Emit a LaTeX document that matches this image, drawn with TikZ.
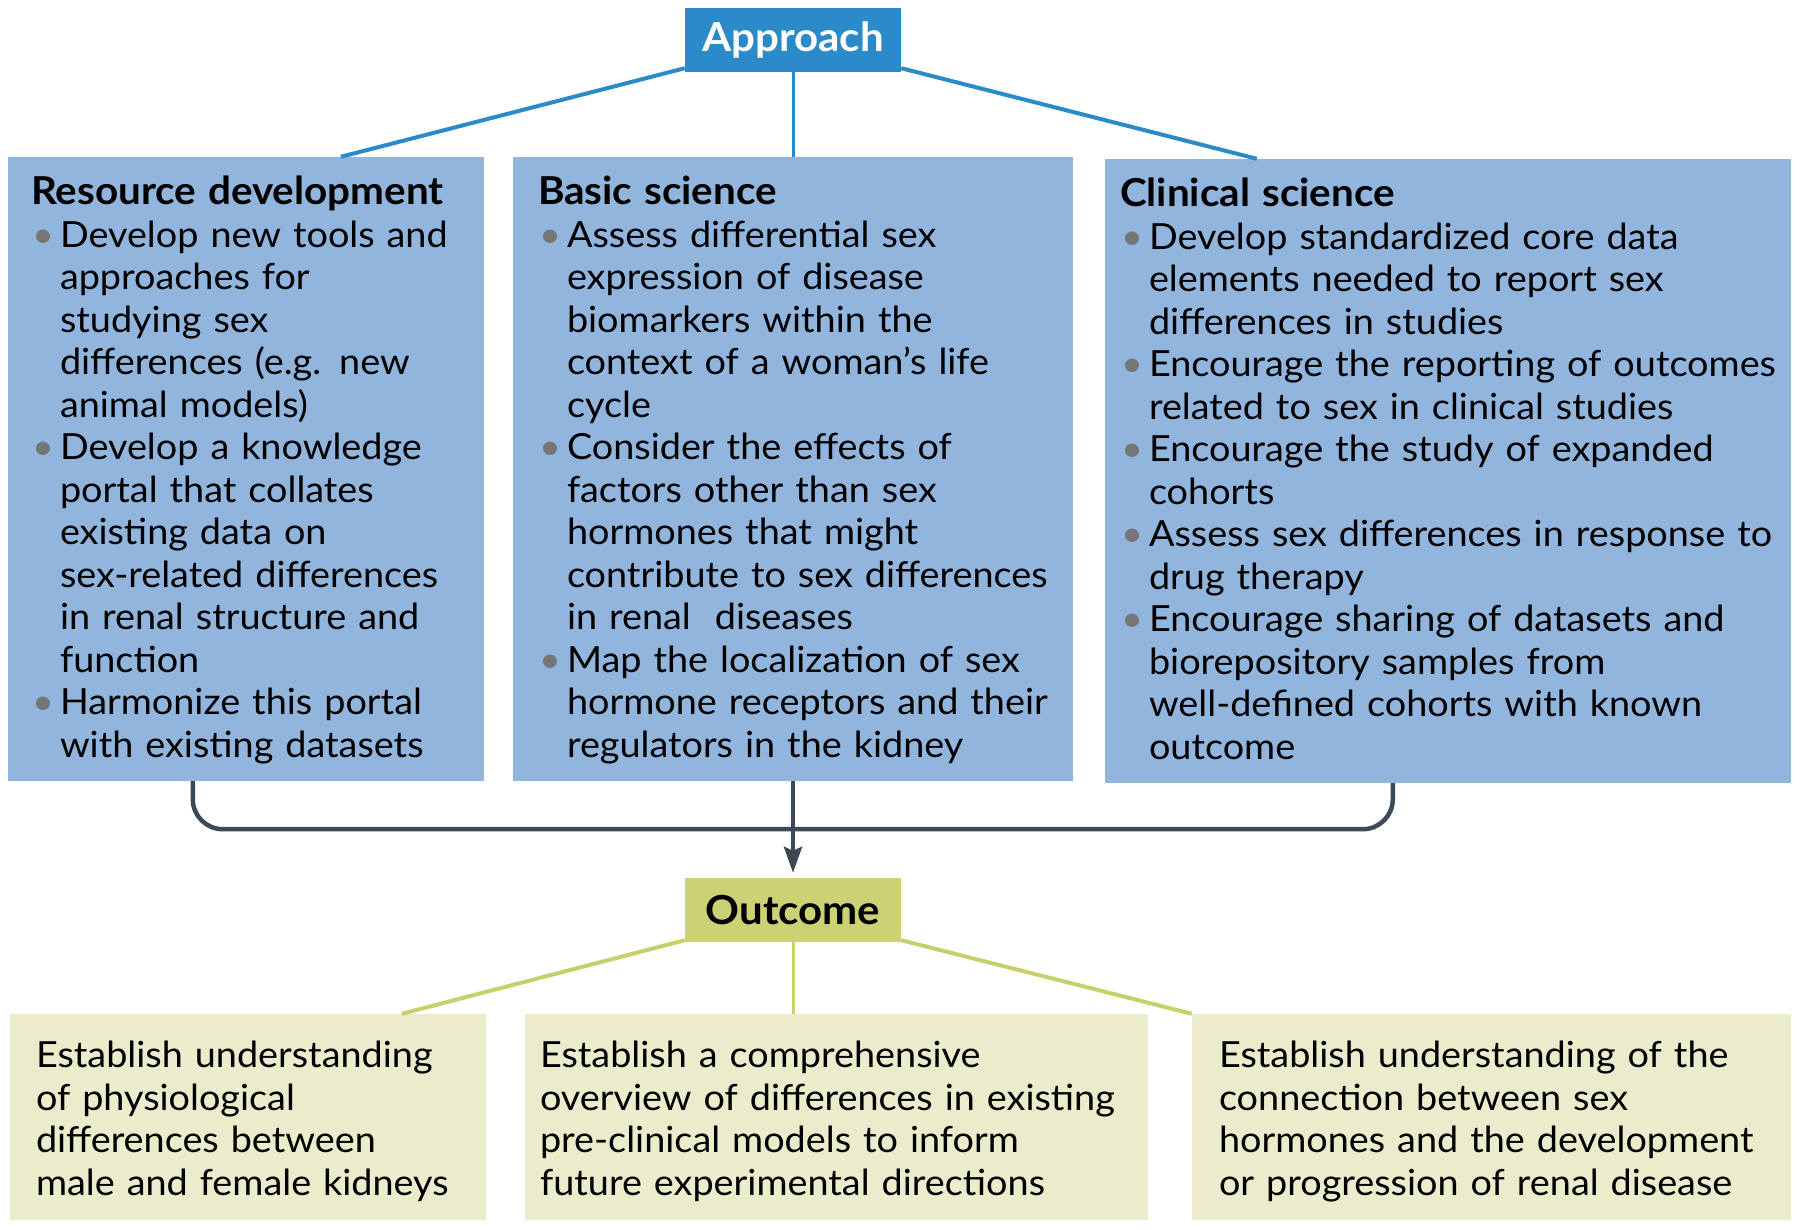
\documentclass[tikz,border=0pt]{standalone}
\usepackage{fontspec}
\setmainfont{Lato}[FakeStretch = 1.05]
\usetikzlibrary{arrows.meta}

\definecolor{apprblue}{RGB}{43,139,201}
\definecolor{boxblue}{RGB}{145,181,221}
\definecolor{outcgreen}{RGB}{204,210,116}
\definecolor{boxcream}{RGB}{234,236,203}
\definecolor{linegreen}{RGB}{200,208,108}
\definecolor{bracketgray}{RGB}{60,74,88}
\definecolor{dotgray}{RGB}{118,118,118}

\newcommand{\blt}{\makebox[29pt][l]{\hspace{1pt}\textcolor{dotgray}{\textbullet}}}
\newcommand{\bpad}{\hspace*{29pt}}
\newcommand{\head}[1]{{\fontsize{38.5}{42.5}\selectfont\bfseries #1}}
\newcommand{\topstrut}{\rule{0pt}{37pt}}
\newcommand{\tallstrut}{\rule{0pt}{42pt}}

\begin{document}
\begin{tikzpicture}[
    x = 1pt, y = -1pt,
    %
    hub/.style = {font = \fontsize{40}{50}\selectfont\bfseries,
      minimum width = 216pt,
      minimum height = 64pt,
      inner sep = 0pt},
    approach/.style = {hub, fill = apprblue, text = white},
    outcome/.style = {hub, fill = outcgreen, text = black},
    %
    panel/.style = {font = \fontsize{36}{42.5}\selectfont,
      align = left,
      inner ysep = 0pt},
    topbox/.style = {panel, fill = boxblue, minimum height = 624pt},
    endbox/.style = {panel, fill = boxcream, minimum height = 206pt},
    %
    apprline/.style = {apprblue, line width = 4pt},
    endline/.style = {linegreen, line width = 4pt},
    bracket/.style = {bracketgray, line width = 4.5pt},
    ]

    \useasboundingbox (0, 0) rectangle (1800, 1230);

    \node at (793, 40)
    [approach, name = appr] {Approach};

    \node at (246, 469)
    [topbox, name = res, inner xsep = 23pt, text width = 430pt]
    {\topstrut\head{Resource development}\\
      \mbox{\blt Develop new tools and}\\
      \bpad approaches for\\
      \bpad studying sex\\
      \mbox{\bpad differences (e.g. new}\\
      \bpad animal models)\\
      \blt Develop a knowledge\\
      \bpad portal that collates\\
      \bpad existing data on\\
      \mbox{\bpad sex-related differences}\\
      \mbox{\bpad in renal structure and}\\
      \bpad function\\
      \blt Harmonize this portal\\
      \mbox{\bpad with existing datasets}\strut};

    \node at (793, 469)
    [topbox, name = bas, inner xsep = 25pt, text width = 510pt]
    {\topstrut\head{Basic science}\\
      \blt Assess differential sex\\
      \bpad expression of disease\\
      \bpad biomarkers within the\\
      \mbox{\bpad context of a woman’s life}\\
      \bpad cycle\\
      \blt Consider the effects of\\
      \bpad factors other than sex\\
      \bpad hormones that might\\
      \mbox{\bpad contribute to sex differences}\\
      \bpad in renal\ \ diseases\\
      \blt Map the localization of sex\\
      \mbox{\bpad hormone receptors and their}\\
      \bpad regulators in the kidney\strut};

    \node at (1448, 471)
    [topbox, name = cli, inner xsep = 15pt, text width = 656pt]
    {\topstrut\head{Clinical science}\\
      \mbox{\blt Develop standardized core data}\\
      \bpad elements needed to report sex\\
      \bpad differences in studies\\
      \mbox{\blt Encourage the reporting of outcomes}\\
      \mbox{\bpad related to sex in clinical studies}\\
      \blt Encourage the study of expanded\\
      \bpad cohorts\\
      \mbox{\blt Assess sex differences in response to}\\
      \bpad drug therapy\\
      \blt Encourage sharing of datasets and\\
      \bpad biorepository samples from\\
      \mbox{\bpad well-defined cohorts with known}\\
      \bpad outcome\strut};

    \node at (793, 910)
    [outcome, name = outc] {Outcome};

    \node at (248, 1117)
    [endbox, name = fin1, inner xsep = 26pt, text width = 424pt]
    {\tallstrut\mbox{Establish understanding}\\
      of physiological\\
      differences between\\
      \mbox{male and female kidneys}\strut};

    \node at (836.5, 1117)
    [endbox, name = fin2, inner xsep = 15pt, text width = 593pt]
    {\tallstrut Establish a comprehensive\\
      \mbox{overview of differences in existing}\\
      pre-clinical models to inform\\
      \mbox{future experimental directions}\strut};

    \node at (1491.5, 1117)
    [endbox, name = fin3, inner xsep = 27pt, text width = 545pt]
    {\tallstrut Establish understanding of the\\
      connection between sex\\
      \mbox{hormones and the development}\\
      \mbox{or progression of renal disease}\strut};

    % approach to the three areas
    \draw [apprline] ([yshift = 4pt]appr.south west) -- ([xshift = 333pt]res.north west);
    \draw [apprline, line width = 3pt] (appr.south) -- (bas.north);
    \draw [apprline] ([yshift = 4pt]appr.south east) -- ([xshift = 152pt]cli.north west);

    % areas merge into the outcome
    \draw [bracket, rounded corners = 30pt]
    ([xshift = 185pt]res.south west)
    |- ([xshift = 288pt, yshift = -46pt]cli.south west)
    -- ([xshift = 288pt]cli.south west);
    \draw [bracket, -{Stealth[width = 18pt, length = 26pt, inset = 4pt]},
      shorten > = 5pt] (bas.south) -- (outc.north);

    % outcome to the three results
    \draw [endline] ([yshift = 2pt]outc.south west) -- ([xshift = 392pt]fin1.north west);
    \draw [endline, line width = 3pt] (outc.south) -- (outc.south |- fin2.north);
    \draw [endline] ([yshift = 2pt]outc.south east) -- (fin3.north west);

  \end{tikzpicture}
\end{document}
